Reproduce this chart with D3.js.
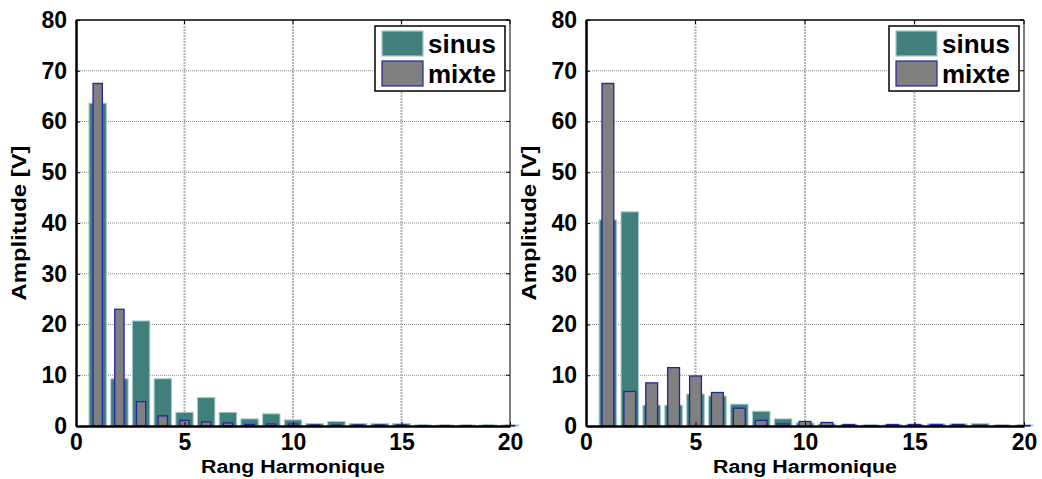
<html lang="fr">
<head>
<meta charset="UTF-8">
<title>Spectre harmonique</title>
<script src="https://d3js.org/d3.v7.min.js"></script>
<style>
  body { margin: 0; background: #fff; }
  text { font-family: "Liberation Sans", Arial, sans-serif; font-weight: bold; fill: #000; }
</style>
</head>
<body>
<script>
// harmonic ranks 1..20
var rangs = d3.range(1, 21)
var xTicks = [0, 5, 10, 15, 20]
var yTicks = [0, 10, 20, 30, 40, 50, 60, 70, 80]
var seriesNames = ["sinus", "mixte"]

// left panel
var sinusLeft = [63.6, 9.3, 20.7, 9.3, 2.7, 5.6, 2.7, 1.4, 2.4, 1.2, 0.5, 0.9, 0.5, 0.5, 0.5, 0.2, 0.2, 0.2, 0.2, 0.2]
var mixteLeft = [67.5, 23.0, 4.8, 2.0, 1.1, 0.8, 0.6, 0.3, 0.4, 0.4, 0.2, 0.2, 0.2, 0.2, 0.2, 0.1, 0.1, 0.1, 0.1, 0.1]
// right panel
var sinusRight = [40.6, 42.2, 4.1, 4.1, 6.3, 5.9, 4.3, 2.9, 1.4, 0.6, 0.4, 0.3, 0.2, 0.3, 0.3, 0.4, 0.4, 0.5, 0.2, 0.2]
var mixteRight = [67.5, 6.8, 8.5, 11.5, 9.85, 6.6, 3.5, 1.1, 0.4, 0.9, 0.7, 0.3, 0.1, 0.3, 0.3, 0.3, 0.3, 0.1, 0.1, 0.1]

var W = 1042, H = 479
var svg = d3.select("body").append("svg").attr("width", W).attr("height", H)

var top_ = 20, bottom = 426
var sinusColor = "#417f7d", mixteColor = "#808080", mixteEdge = "#2424a0"

function drawPanel(x0, x1, sinus, mixte, mixteW) {
    var x = d3.scaleLinear().domain([0, 20]).range([x0, x1])
    var y = d3.scaleLinear().domain([0, 80]).range([bottom, top_])
    var g = svg.append("g")

    // grid
    g.selectAll(".hg").data(yTicks.slice(1, -1)).enter().append("line")
        .attr("x1", x0).attr("x2", x1).attr("y1", d => y(d)).attr("y2", d => y(d))
        .attr("stroke", "#8a8a8a").attr("stroke-width", 1).attr("stroke-dasharray", "1,1")
    g.selectAll(".vg").data(xTicks.slice(1, -1)).enter().append("line")
        .attr("y1", top_).attr("y2", bottom).attr("x1", d => x(d)).attr("x2", d => x(d))
        .attr("stroke", "#b4b4b4").attr("stroke-width", 2).attr("stroke-dasharray", "2,1")

    // bars
    var bw = x(0.8) - x(0)
    g.selectAll(".s").data(sinus).enter().append("rect")
        .attr("x", (d, i) => x(rangs[i]) - bw / 2).attr("width", bw)
        .attr("y", d => y(d)).attr("height", d => y(0) - y(d))
        .attr("fill", sinusColor).attr("stroke", "#a6cbc8").attr("stroke-width", 1)
    var mw = x(mixteW) - x(0)
    g.selectAll(".m").data(mixte).enter().append("rect")
        .attr("x", (d, i) => x(rangs[i]) - mw / 2).attr("width", mw)
        .attr("y", d => y(d)).attr("height", d => y(0) - y(d))
        .attr("fill", mixteColor).attr("stroke", mixteEdge).attr("stroke-width", 1.3)

    // frame
    g.append("line").attr("x1", x0).attr("x2", x1).attr("y1", top_).attr("y2", top_).attr("stroke", "#000").attr("stroke-width", 1.5)
    g.append("line").attr("x1", x1).attr("x2", x1).attr("y1", top_).attr("y2", bottom).attr("stroke", "#555").attr("stroke-width", 1.5)

    // axes
    var yAxis = d3.axisLeft(y).tickValues(yTicks).tickSizeInner(-4).tickSizeOuter(0).tickPadding(9)
    var ya = g.append("g").attr("transform", `translate(${x0},0)`).call(yAxis)
    ya.select(".domain").attr("stroke", "#000").attr("stroke-width", 2.5)
    ya.selectAll("text").style("font-size", "23px")

    var xAxis = d3.axisBottom(x).tickValues(xTicks).tickSizeInner(-4).tickSizeOuter(0).tickPadding(8)
    var xa = g.append("g").attr("transform", `translate(0,${bottom})`).call(xAxis)
    xa.select(".domain").attr("stroke", "#000").attr("stroke-width", 2.5)
    xa.selectAll("text").style("font-size", "23px")

    // opposite ticks
    g.selectAll(".rt").data(yTicks).enter().append("line")
        .attr("x1", x1).attr("x2", x1 - 4).attr("y1", d => y(d)).attr("y2", d => y(d)).attr("stroke", "#000")
    g.selectAll(".tt").data(xTicks).enter().append("line")
        .attr("y1", top_).attr("y2", top_ + 4).attr("x1", d => x(d)).attr("x2", d => x(d)).attr("stroke", "#000")

    // titles
    g.append("text").attr("x", (x0 + x1) / 2).attr("y", 473).attr("text-anchor", "middle")
        .attr("textLength", 184).attr("lengthAdjust", "spacingAndGlyphs")
        .style("font-size", "18px").text("Rang Harmonique")
    g.append("text").attr("transform", `translate(${x0 - 50},${(top_ + bottom) / 2}) rotate(-90)`)
        .attr("text-anchor", "middle").attr("textLength", 155).attr("lengthAdjust", "spacingAndGlyphs")
        .style("font-size", "20px").text("Amplitude [V]")

    // legend
    var lx = x1 - 135, ly = 26
    var lg = g.append("g")
    lg.append("rect").attr("x", lx).attr("y", ly).attr("width", 130).attr("height", 65)
        .attr("fill", "#fff").attr("stroke", "#000").attr("stroke-width", 1.5)
    seriesNames.forEach(function (name, i) {
        lg.append("rect").attr("x", lx + 7).attr("y", ly + 5 + i * 30).attr("width", 41).attr("height", 25)
            .attr("fill", i === 0 ? sinusColor : mixteColor)
            .attr("stroke", i === 0 ? "#a6cbc8" : mixteEdge).attr("stroke-width", 1.2)
        lg.append("text").attr("x", lx + 53).attr("y", ly + 27 + i * 30)
            .style("font-size", "26px").text(name)
    })
}

drawPanel(76, 510, sinusLeft, mixteLeft, 0.43)
drawPanel(586, 1024, sinusRight, mixteRight, 0.54)
</script>
</body>
</html>
